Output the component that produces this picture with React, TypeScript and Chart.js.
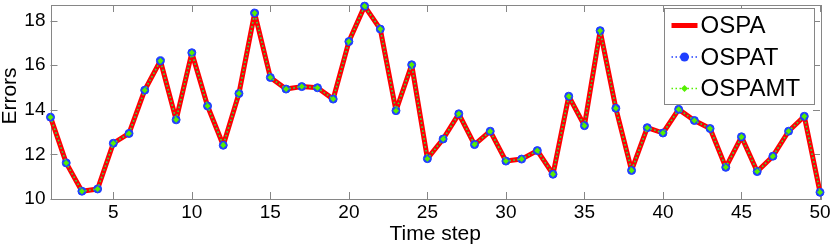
import React, { useEffect, useRef } from 'react';
import { Chart, registerables } from 'chart.js';

Chart.register(...registerables);

const timeSteps = [
  1, 2, 3, 4, 5, 6, 7, 8, 9, 10, 11, 12, 13, 14, 15, 16, 17, 18, 19, 20, 21, 22, 23, 24, 25,
  26, 27, 28, 29, 30, 31, 32, 33, 34, 35, 36, 37, 38, 39, 40, 41, 42, 43, 44, 45, 46, 47, 48, 49, 50,
];

const ospa = [
  13.67, 11.62, 10.35, 10.45, 12.5, 12.94, 14.88, 16.2, 13.55, 16.56,
  14.17, 12.41, 14.73, 18.34, 15.45, 14.93, 15.04, 14.99, 14.48, 17.06,
  18.65, 17.62, 13.96, 16.02, 11.81, 12.69, 13.82, 12.44, 13.04, 11.7,
  11.79, 12.17, 11.11, 14.61, 13.29, 17.55, 14.07, 11.28, 13.2, 12.96,
  14.02, 13.52, 13.16, 11.42, 12.79, 11.23, 11.92, 13.04, 13.71, 10.3,
];

const ospat = [
  13.67, 11.62, 10.35, 10.45, 12.5, 12.94, 14.88, 16.2, 13.55, 16.56,
  14.17, 12.41, 14.73, 18.34, 15.45, 14.93, 15.04, 14.99, 14.48, 17.06,
  18.65, 17.62, 13.96, 16.02, 11.81, 12.69, 13.82, 12.44, 13.04, 11.7,
  11.79, 12.17, 11.11, 14.61, 13.29, 17.55, 14.07, 11.28, 13.2, 12.96,
  14.02, 13.52, 13.16, 11.42, 12.79, 11.23, 11.92, 13.04, 13.71, 10.3,
];

const ospamt = [
  13.67, 11.62, 10.35, 10.45, 12.5, 12.94, 14.88, 16.2, 13.55, 16.56,
  14.17, 12.41, 14.73, 18.34, 15.45, 14.93, 15.04, 14.99, 14.48, 17.06,
  18.65, 17.62, 13.96, 16.02, 11.81, 12.69, 13.82, 12.44, 13.04, 11.7,
  11.79, 12.17, 11.11, 14.61, 13.29, 17.55, 14.07, 11.28, 13.2, 12.96,
  14.02, 13.52, 13.16, 11.42, 12.79, 11.23, 11.92, 13.04, 13.71, 10.3,
];

const xTickValues = [5, 10, 15, 20, 25, 30, 35, 40, 45, 50];
const yTickValues = [10, 12, 14, 16, 18];

const FONT = 'Liberation Sans, Arial, Helvetica, sans-serif';
const AXIS_COLOR = '#868686';
const RED = '#ff0000';
const BLUE = '#1f3fff';
const GREEN = '#55f000';

const toPoints = (vals: number[]) => vals.map((v, i) => ({ x: timeSteps[i], y: v }));

const framePlugin = {
  id: 'matlabFrame',
  beforeDatasetsDraw(chart: any) {
    const { ctx, chartArea, scales } = chart;
    const { left, right, top, bottom } = chartArea;
    const tl = 7;
    ctx.save();
    ctx.strokeStyle = AXIS_COLOR;
    ctx.lineWidth = 1;
    ctx.strokeRect(Math.round(left) + 0.5, Math.round(top) + 0.5, Math.round(right - left), Math.round(bottom - top));
    ctx.beginPath();
    for (const t of scales.x.ticks) {
      const px = Math.round(scales.x.getPixelForValue(t.value)) + 0.5;
      ctx.moveTo(px, bottom);
      ctx.lineTo(px, bottom - tl);
      ctx.moveTo(px, top);
      ctx.lineTo(px, top + tl);
    }
    for (const t of scales.y.ticks) {
      const py = Math.round(scales.y.getPixelForValue(t.value)) + 0.5;
      ctx.moveTo(left, py);
      ctx.lineTo(left + tl, py);
      ctx.moveTo(right, py);
      ctx.lineTo(right - tl, py);
    }
    ctx.stroke();

    // y-axis title
    ctx.fillStyle = '#000';
    ctx.font = `21px ${FONT}`;
    ctx.textAlign = 'center';
    ctx.textBaseline = 'middle';
    ctx.translate(10, (top + bottom) / 2 - 6);
    ctx.rotate(-Math.PI / 2);
    ctx.fillText('Errors', 0, 0);
    ctx.restore();
  },
};

const legendPlugin = {
  id: 'matlabLegend',
  afterDraw(chart: any) {
    const { ctx, chartArea } = chart;
    const r = Math.round(chartArea.right) - 5.5;
    const t = Math.round(chartArea.top) + 3.5;
    const w = 150;
    const h = 96;
    const l = r - w;
    ctx.save();
    ctx.fillStyle = '#ffffff';
    ctx.fillRect(l, t, w, h);
    ctx.strokeStyle = AXIS_COLOR;
    ctx.lineWidth = 1;
    ctx.strokeRect(l, t, w, h);
    const rowsY = [t + 17, t + 48.5, t + 80];
    const x0 = l + 7;
    const x1 = l + 33;
    const xm = (x0 + x1) / 2;
    chart.data.datasets.forEach((ds: any, i: number) => {
      const y = rowsY[i];
      ctx.save();
      ctx.strokeStyle = ds.borderColor;
      ctx.lineWidth = ds.borderWidth;
      ctx.setLineDash(ds.borderDash || []);
      ctx.beginPath();
      ctx.moveTo(x0, y);
      ctx.lineTo(x1, y);
      ctx.stroke();
      ctx.restore();
      if (ds.pointRadius > 0) {
        ctx.fillStyle = ds.pointBackgroundColor;
        ctx.beginPath();
        if (ds.pointStyle === 'rectRot') {
          const s = ds.pointRadius + 0.5;
          ctx.moveTo(xm, y - s);
          ctx.lineTo(xm + s, y);
          ctx.lineTo(xm, y + s);
          ctx.lineTo(xm - s, y);
          ctx.closePath();
        } else {
          ctx.arc(xm, y, ds.pointRadius + 0.5, 0, Math.PI * 2);
        }
        ctx.fill();
      }
      ctx.fillStyle = '#000';
      ctx.font = `24px ${FONT}`;
      ctx.textAlign = 'left';
      ctx.textBaseline = 'middle';
      ctx.fillText(ds.label, l + 36, y + 1);
    });
    ctx.restore();
  },
};

export default function App() {
  const canvasRef = useRef<HTMLCanvasElement | null>(null);

  useEffect(() => {
    const canvas = canvasRef.current;
    if (!canvas) return;
    const chart = new Chart(canvas, {
      type: 'line',
      data: {
        datasets: [
          {
            label: 'OSPA',
            data: toPoints(ospa),
            borderColor: RED,
            backgroundColor: RED,
            borderWidth: 5,
            borderJoinStyle: 'round',
            borderCapStyle: 'round',
            pointRadius: 0,
            pointHoverRadius: 0,
            tension: 0,
            order: 3,
            clip: false as any,
          },
          {
            label: 'OSPAT',
            data: toPoints(ospat),
            borderColor: BLUE,
            backgroundColor: BLUE,
            borderWidth: 1.5,
            borderDash: [1.5, 2.5],
            pointRadius: 4,
            pointBorderWidth: 1,
            pointBorderColor: BLUE,
            pointBackgroundColor: BLUE,
            pointStyle: 'circle',
            tension: 0,
            order: 2,
            clip: false as any,
          },
          {
            label: 'OSPAMT',
            data: toPoints(ospamt),
            borderColor: GREEN,
            backgroundColor: GREEN,
            borderWidth: 1.5,
            borderDash: [1.5, 2.5],
            pointRadius: 3,
            pointBorderWidth: 0,
            pointBorderColor: GREEN,
            pointBackgroundColor: GREEN,
            pointStyle: 'rectRot',
            tension: 0,
            order: 1,
            clip: false as any,
          },
        ],
      },
      options: {
        responsive: false,
        devicePixelRatio: 1,
        animation: false,
        events: [],
        layout: { padding: { left: 0, right: 10, top: 1, bottom: 0 } },
        plugins: {
          legend: { display: false },
          tooltip: { enabled: false },
          title: { display: false },
        },
        scales: {
          x: {
            type: 'linear',
            min: 1,
            max: 50,
            afterBuildTicks: (s: any) => {
              s.ticks = xTickValues.map((v) => ({ value: v }));
            },
            afterFit: (s: any) => {
              s.height = 47;
              s.paddingLeft = 0;
              s.paddingRight = 0;
            },
            grid: { display: false, drawTicks: false },
            border: { display: false },
            ticks: {
              color: '#000',
              font: { family: FONT, size: 19 },
              padding: 2,
              maxRotation: 0,
              autoSkip: false,
            },
            title: {
              display: true,
              text: 'Time step',
              color: '#000',
              font: { family: FONT, size: 21, lineHeight: 1 },
              padding: { top: 0, bottom: 1 },
            },
          },
          y: {
            type: 'linear',
            min: 10,
            max: 18.7,
            afterBuildTicks: (s: any) => {
              s.ticks = yTickValues.map((v) => ({ value: v }));
            },
            afterFit: (s: any) => {
              s.width = 50.5;
              s.paddingTop = 0;
              s.paddingBottom = 0;
            },
            grid: { display: false, drawTicks: false },
            border: { display: false },
            ticks: {
              color: '#000',
              font: { family: FONT, size: 19 },
              padding: 5,
            },
          },
        },
      },
      plugins: [framePlugin, legendPlugin],
    });
    return () => chart.destroy();
  }, []);

  return (
    <div style={{ position: 'absolute', left: 0, top: 0, width: 830, height: 246, background: '#fff' }}>
      <canvas ref={canvasRef} width={830} height={246} style={{ width: 830, height: 246, display: 'block' }} />
    </div>
  );
}
